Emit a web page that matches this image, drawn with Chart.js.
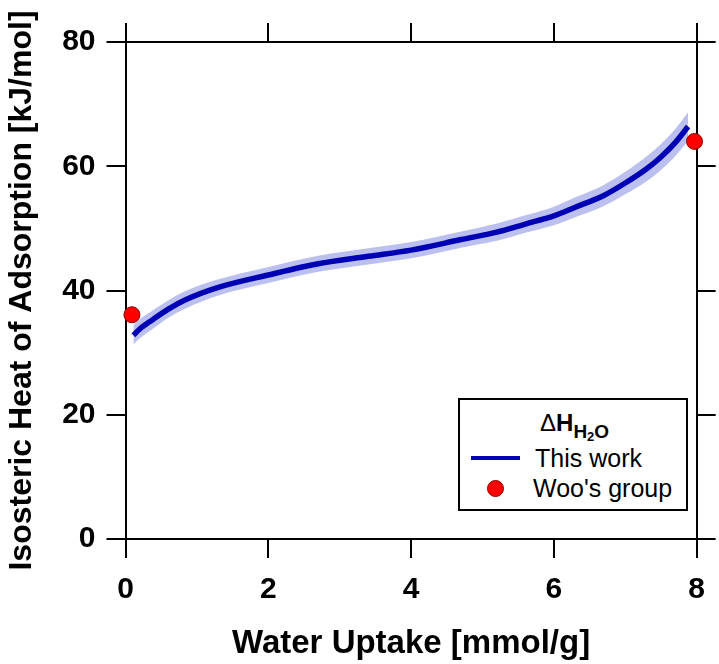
<!DOCTYPE html>
<html>
<head>
<meta charset="utf-8">
<script src="https://cdn.jsdelivr.net/npm/chart.js@4"></script>
<style>
  body { margin: 0; background: #fff; }
  #wrap { position: relative; width: 719px; height: 664px; }
  #legend {
    position: absolute; left: 458px; top: 398px; width: 226px; height: 109px;
    border: 2px solid #000; background: #fff;
    font-family: "Liberation Sans", Arial, sans-serif; color: #000;
  }
  #legend .t { position: absolute; line-height: 30px; font-size: 25px; white-space: nowrap; }
</style>
</head>
<body>
<div id="wrap">
  <canvas id="chart" width="719" height="664"></canvas>
  <div id="legend">
    <span class="t" style="left:80px; top:8px; font-size:24px;">Δ<b>H</b><b style="font-size:19px; position:relative; top:7px;">H<span style="font-size:13px; position:relative; top:3px;">2</span>O</b></span>
    <div style="position:absolute; left:11px; top:56px; width:49px; height:4px; background:#0000b4;"></div>
    <span class="t" style="left:75px; top:43px;">This work</span>
    <div style="position:absolute; left:27px; top:80px; width:15px; height:15px; border-radius:50%; background:#ff0000; border:1px solid #8b0000;"></div>
    <span class="t" style="left:73px; top:73px;">Woo's group</span>
  </div>
</div>
<script>
// values
const uptake   = [0.11, 0.2, 0.38, 0.6, 0.84, 1.3, 2.0, 2.7, 3.4, 4.0, 4.7, 5.2, 5.6, 6.0, 6.3, 6.7, 7.0, 7.3, 7.5, 7.7, 7.88];
const heat     = [32.8, 33.8, 35.3, 37.0, 38.5, 40.5, 42.5, 44.3, 45.5, 46.5, 48.2, 49.4, 50.7, 52.0, 53.4, 55.3, 57.3, 59.6, 61.5, 63.8, 66.4];
const heatHigh = [34.4, 35.4, 36.8, 38.4, 39.9, 41.8, 43.8, 45.6, 46.8, 47.8, 49.5, 50.8, 52.1, 53.5, 55.0, 57.0, 59.1, 61.6, 63.6, 66.0, 68.7];
const heatLow  = [31.3, 32.3, 33.8, 35.6, 37.1, 39.2, 41.2, 43.0, 44.2, 45.2, 46.9, 48.0, 49.3, 50.5, 51.8, 53.6, 55.5, 57.6, 59.4, 61.6, 64.1];
const wooUptake = [0.09, 7.97];
const wooHeat   = [36.1, 64.0];
const xTicks = [0, 2, 4, 6, 8];
const yTicks = [0, 20, 40, 60, 80];

const font = "'Liberation Sans', Arial, sans-serif";
const toPts = (xs, ys) => xs.map((x, i) => ({x: x, y: ys[i]}));

// fixes the size of each axis so the plot box lands where it is in the picture
function fixSize(size) {
    return scale => {
        if (scale.isHorizontal()) scale.height = size;
        else scale.width = size;
    };
}

const axisBits = {
    border: { display: true, color: '#000', width: 2 },
    grid: { drawOnChartArea: false, drawTicks: true, tickLength: 19, color: '#000', lineWidth: 2 }
};

// chart.js paints the first dataset last, so the dots come first and the band last
new Chart(document.getElementById('chart').getContext('2d'), {
    type: 'line',
    data: {
        datasets: [
            {
                label: "Woo's group",
                data: toPts(wooUptake, wooHeat),
                showLine: false,
                pointRadius: 8,
                pointBackgroundColor: '#ff0000',
                pointBorderColor: '#8b0000',
                pointBorderWidth: 1,
                clip: false
            },
            {
                label: 'This work',
                data: toPts(uptake, heat),
                borderColor: '#0000b4',
                borderWidth: 5.5,
                pointRadius: 0,
                fill: false,
                cubicInterpolationMode: 'monotone'
            },
            {
                label: 'band high',
                data: toPts(uptake, heatHigh),
                borderWidth: 0, pointRadius: 0,
                backgroundColor: '#bcc0ee',
                fill: '+1',
                cubicInterpolationMode: 'monotone'
            },
            {
                label: 'band low',
                data: toPts(uptake, heatLow),
                borderWidth: 0, pointRadius: 0,
                fill: false,
                cubicInterpolationMode: 'monotone'
            }
        ]
    },
    options: {
        responsive: false,
        animation: false,
        layout: { padding: 0 },
        plugins: { legend: { display: false }, tooltip: { enabled: false } },
        scales: {
            x: {
                type: 'linear', position: 'bottom', min: 0, max: 8,
                afterBuildTicks: s => { s.ticks = xTicks.map(v => ({value: v})); },
                afterFit: fixSize(125),
                ...axisBits,
                ticks: { color: '#000', padding: 14, maxRotation: 0, font: { family: font, size: 30, weight: 'bold' } },
                title: { display: true, text: 'Water Uptake [mmol/g]', color: '#000', padding: { top: 0, bottom: 0 },
                         font: { family: font, size: 33, weight: 'bold' } }
            },
            x2: {
                type: 'linear', position: 'top', min: 0, max: 8,
                afterBuildTicks: s => { s.ticks = xTicks.map(v => ({value: v})); },
                afterFit: fixSize(42),
                ...axisBits,
                ticks: { display: false }
            },
            y: {
                type: 'linear', position: 'left', min: 0, max: 80,
                afterBuildTicks: s => { s.ticks = yTicks.map(v => ({value: v})); },
                afterFit: fixSize(125.5),
                ...axisBits,
                ticks: { color: '#000', padding: 11, font: { family: font, size: 30, weight: 'bold' } },
                title: { display: true, text: 'Isosteric Heat of Adsorption [kJ/mol]', color: '#000', padding: { top: 3, bottom: 0 },
                         font: { family: font, size: 32, weight: 'bold' } }
            },
            y2: {
                type: 'linear', position: 'right', min: 0, max: 80,
                afterBuildTicks: s => { s.ticks = yTicks.map(v => ({value: v})); },
                afterFit: fixSize(14),
                ...axisBits,
                ticks: { display: false }
            }
        }
    }
});
</script>
</body>
</html>
